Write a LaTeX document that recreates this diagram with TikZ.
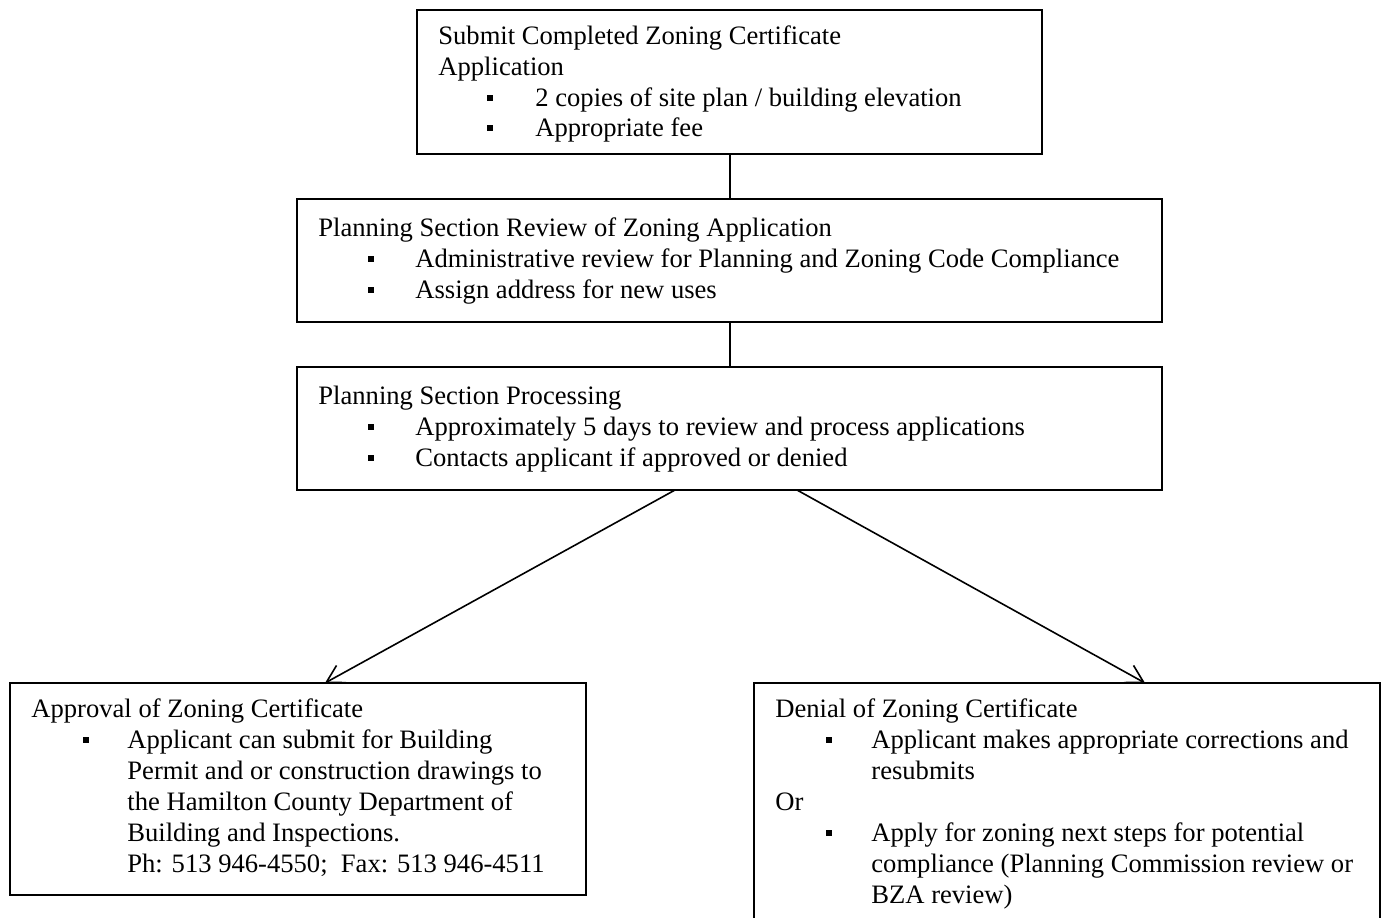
\documentclass[tikz,border=0pt]{standalone}
\usepackage{fontspec}
\setmainfont{Liberation Serif}
\usetikzlibrary{arrows.meta}
\begin{document}
\begin{tikzpicture}[x=0.5pt,y=-0.5pt,
  box/.style={draw,line width=1pt,inner sep=0pt},
  txt/.style={inner sep=0pt,anchor=base west,font=\fontsize{13.3pt}{15.5pt}\selectfont},
  bul/.style={fill=black,minimum size=3.4pt,inner sep=0pt},
  conn/.style={line width=0.8pt},
  arr/.style={line width=0.8pt,-{Straight Barb[angle'=60,length=8.5pt,line width=0.8pt]}}]
\useasboundingbox (0,0) rectangle (1384,917);
% boxes
\draw[box] (417,10) rectangle (1042,154);
\coordinate (b1t) at (730,154);
\draw[box] (297,199) rectangle (1162,322);
\coordinate (b2t) at (730,199); \coordinate (b2b) at (730,322);
\draw[box] (297,367) rectangle (1162,490);
\coordinate (b3t) at (730,367);
\coordinate (b3l) at (675,490); \coordinate (b3r) at (797,490);
\draw[box] (10,895) -- (10,683) -- (586,683) -- (586,895) -- cycle;
\coordinate (b4t) at (325,683);
\draw[box] (754,920) -- (754,683) -- (1380,683) -- (1380,920);
\coordinate (b5t) at (1145,683);
% connectors
\draw[conn] (b1t) -- (b2t);
\draw[conn] (b2b) -- (b3t);
\draw[arr] (b3l) -- (b4t);
\draw[arr] (b3r) -- (b5t);
% box 1 text
\node[txt] (t11) at (438,44) {Submit Completed Zoning Certificate};
\node[txt] (t12) at (438,75) {Application};
\node[bul] (s13) at (490,98) {};
\node[txt] (t13) at (535,106) {2 copies of site plan / building elevation};
\node[bul] (s14) at (490,128) {};
\node[txt] (t14) at (535,136) {Appropriate fee};
% box 2 text
\node[txt] (t21) at (318,236) {Planning Section Review of Zoning Application};
\node[bul] (s22) at (371,259) {};
\node[txt] (t22) at (415,267) {Administrative review for Planning and Zoning Code Compliance};
\node[bul] (s23) at (371,290) {};
\node[txt] (t23) at (415,298) {Assign address for new uses};
% box 3 text
\node[txt] (t31) at (318,404) {Planning Section Processing};
\node[bul] (s32) at (371,427) {};
\node[txt] (t32) at (415,435) {Approximately 5 days to review and process applications};
\node[bul] (s33) at (371,458) {};
\node[txt] (t33) at (415,466) {Contacts applicant if approved or denied};
% box 4 text
\node[txt] (t41) at (31,717) {Approval of Zoning Certificate};
\node[bul] (s42) at (86,740) {};
\node[txt] (t42) at (127,748) {Applicant can submit for Building};
\node[txt] (t43) at (127,779) {Permit and or construction drawings to};
\node[txt] (t44) at (127,810) {the Hamilton County Department of};
\node[txt] (t45) at (127,841) {Building and Inspections.};
\node[txt] (t46) at (127,872) {Ph: 513 946-4550;\ \ Fax: 513 946-4511};
% box 5 text
\node[txt] (t51) at (775,717) {Denial of Zoning Certificate};
\node[bul] (s52) at (829,740) {};
\node[txt] (t52) at (871,748) {Applicant makes appropriate corrections and};
\node[txt] (t53) at (871,779) {resubmits};
\node[txt] (t54) at (775,810) {Or};
\node[bul] (s55) at (829,833) {};
\node[txt] (t55) at (871,841) {Apply for zoning next steps for potential};
\node[txt] (t56) at (871,872) {compliance (Planning Commission review or};
\node[txt] (t57) at (871,903) {BZA review)};
\end{tikzpicture}
\end{document}
